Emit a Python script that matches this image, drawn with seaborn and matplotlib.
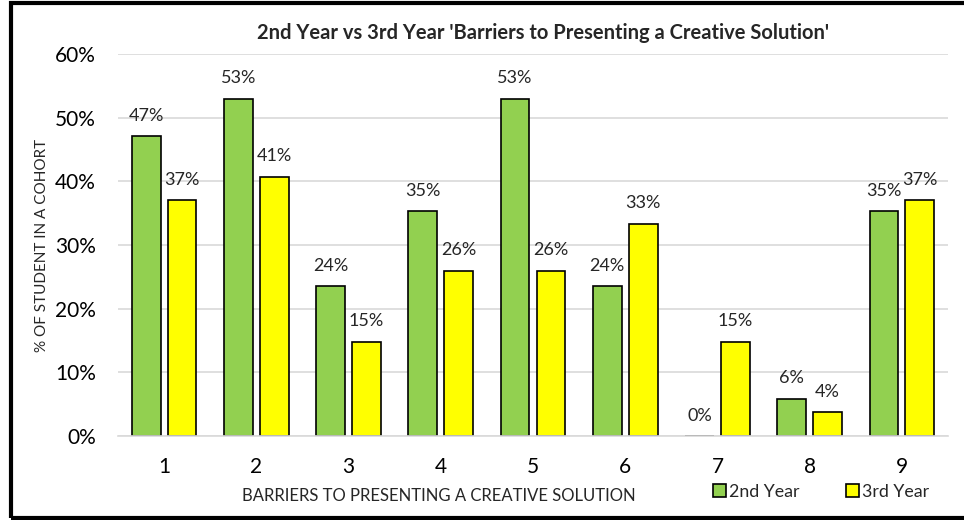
import numpy as np
import pandas as pd
import seaborn as sns
import matplotlib.pyplot as plt
from matplotlib.patches import Rectangle
from matplotlib.ticker import PercentFormatter

# data
barriers = ['1', '2', '3', '4', '5', '6', '7', '8', '9']
second_year = [0.4706, 0.5294, 0.2353, 0.3529, 0.5294, 0.2353, 0.0, 0.0588, 0.3529]
third_year = [0.3704, 0.4074, 0.1481, 0.2593, 0.2593, 0.3333, 0.1481, 0.0370, 0.3704]
series_names = ['2nd Year', '3rd Year']
colors = ['#92d050', '#ffff00']

df = pd.DataFrame({
    'barrier': barriers * 2,
    'share': second_year + third_year,
    'year': [series_names[0]] * len(barriers) + [series_names[1]] * len(barriers),
})

sns.set_style('white')
plt.rcParams['font.family'] = ['Lato', 'DejaVu Sans']

fig = plt.figure(figsize=(9.64, 5.2), dpi=100)
ax = fig.add_axes([0.1224, 0.1615, 0.861, 0.7346])

sns.barplot(data=df, x='barrier', y='share', hue='year', palette=colors,
            width=0.78, gap=0.2, edgecolor='black', linewidth=1.2,
            saturation=1, ax=ax, legend=True)

ax.set_ylim(0, 0.6)
ax.set_xlim(-0.5, len(barriers) - 0.5)
ax.set_yticks(np.arange(0, 0.61, 0.1))
ax.yaxis.set_major_formatter(PercentFormatter(1.0, decimals=0))
ax.grid(axis='y', color='#d9d9d9', linewidth=1.2)
ax.set_axisbelow(True)
for s in ['top', 'right', 'left']:
    ax.spines[s].set_visible(False)
ax.spines['bottom'].set_color('#d9d9d9')
ax.spines['bottom'].set_linewidth(1.2)
ax.tick_params(axis='y', length=0, labelsize=15, pad=16, colors='black')
ax.tick_params(axis='x', length=0, labelsize=15, pad=15, colors='black')

ax.set_xlabel('BARRIERS TO PRESENTING A CREATIVE SOLUTION', fontsize=12)
ax.xaxis.label.set_va('center')
ax.xaxis.set_label_coords(0.386, -0.157)
ax.set_ylabel('% OF STUDENT IN A COHORT', fontsize=11, labelpad=4)

# data labels
for cont in ax.containers:
    labels = ['{:.0f}%'.format(v * 100) for v in cont.datavalues]
    ax.bar_label(cont, labels=labels, padding=9, fontsize=13)

fig.text(0.563, 0.937, "2nd Year vs 3rd Year 'Barriers to Presenting a Creative Solution'",
         ha='center', va='center', fontsize=14.5, fontweight='bold')

ax.get_legend().remove()
handles, labels = ax.get_legend_handles_labels()
leg = fig.legend(handles, labels, loc='center right', bbox_to_anchor=(0.964, 0.054), ncol=2,
                 frameon=False, fontsize=12.8, handlelength=0.7, handleheight=0.7,
                 handletextpad=0.2, columnspacing=2.6, borderaxespad=0, borderpad=0)
for h in leg.legend_handles:
    h.set_edgecolor('black')

fig.add_artist(Rectangle((0.011, 0.004), 1.0, 0.99, transform=fig.transFigure,
                         fill=False, edgecolor='black', linewidth=3))

plt.savefig('out.png', dpi=100)
